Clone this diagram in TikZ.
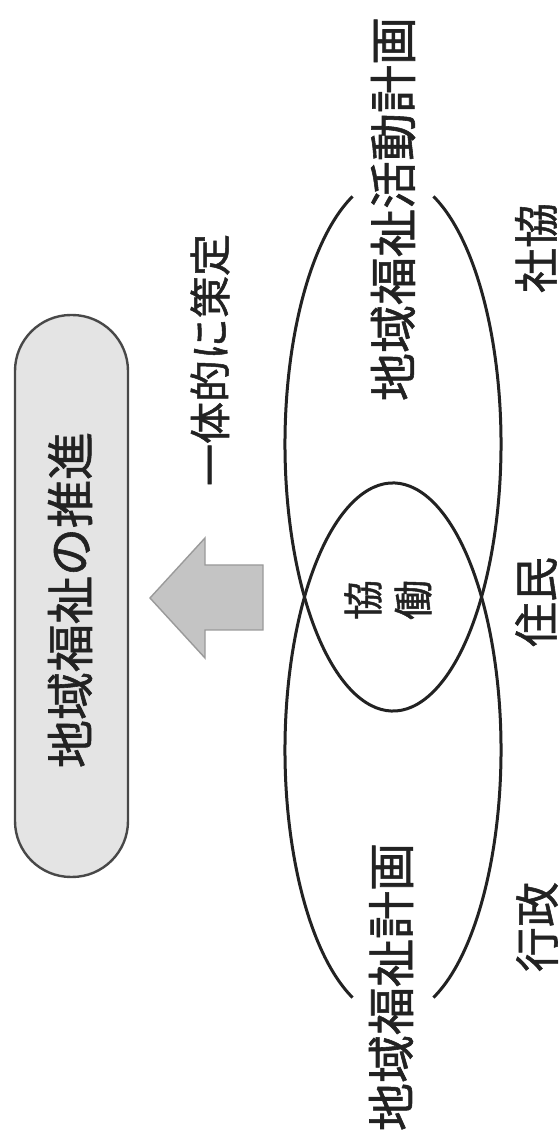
\documentclass[tikz,border=0pt]{standalone}
\usepackage{fontspec}
\newfontfamily\jpfont{Noto Sans CJK JP}[FakeBold=1.2]
\definecolor{ink}{HTML}{222222}
\definecolor{pillfill}{HTML}{E4E4E4}
\definecolor{pillline}{HTML}{484848}
\definecolor{arrowfill}{HTML}{C4C4C4}
\definecolor{arrowline}{HTML}{9A9A9A}
\tikzset{
  jp/.style={text=ink, inner sep=0pt, rotate=90, font=\jpfont\fontsize{#1}{#1}\selectfont},
  pillbox/.style={draw=pillline, line width=2.4pt, fill=pillfill, rounded corners=56pt, rotate=90},
  ring/.style={draw=ink, line width=3pt},
  bigarrow/.style={fill=arrowfill, draw=arrowline, line width=1.4pt, line join=miter}
}
\begin{document}
\begin{tikzpicture}[x=1pt,y=1pt]
\useasboundingbox (0,0) rectangle (559,1140);
\fill[white] (0,0) rectangle (559,1140);

% pill
\node[pillbox, minimum width=562, minimum height=113, inner sep=0pt] (pill) at (71.5,544) {};
\node[jp=48] (pilltext) at (70,540) {地域福祉の推進};

% arrow
\draw[bigarrow] (150,542) -- (205,602) -- (205,575) -- (263,575) -- (263,510) -- (205,510) -- (205,482) -- cycle;

% label over the arrow
\node[jp=42] (ittai) at (210,780) {一体的に策定};

% ellipses
\coordinate (U) at (393,696);
\coordinate (L) at (393,390);
\draw[ring] (U) ++(112:108 and 267) arc[start angle=112, end angle=428, x radius=108, y radius=267];
\draw[ring] (L) ++(-68:108 and 267) arc[start angle=-68, end angle=248, x radius=108, y radius=267];

% texts at the ellipse ends
\node[jp=48] (katsudo) at (393,931) {地域福祉活動計画};
\node[jp=48] (keikaku) at (391,153) {地域福祉計画};

% overlap
\node[jp=40, align=center, font=\jpfont\fontsize{40}{50}\selectfont] (kyodo) at (388,540) {協\\働};

% actors
\node[jp=45] (shakyo) at (536,892) {社協};
\node[jp=45] (jumin) at (536,538) {住民};
\node[jp=45] (gyosei) at (537,213) {行政};
\end{tikzpicture}
\end{document}
